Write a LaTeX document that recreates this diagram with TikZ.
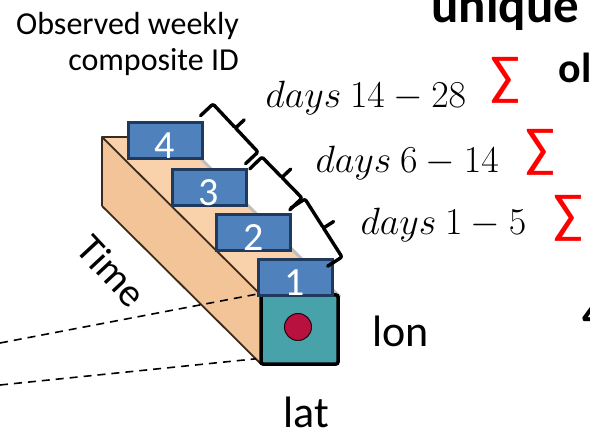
\RequirePackage{fix-cm}
\documentclass[tikz,border=0pt]{standalone}
\usepackage[no-math]{fontspec}
\setmainfont{Carlito}
\usetikzlibrary{calc}

\definecolor{topface}{HTML}{F9D1AA}
\definecolor{sideface}{HTML}{F3C497}
\definecolor{woodedge}{HTML}{3B2A1E}
\definecolor{boxblue}{HTML}{4F81BD}
\definecolor{boxnavy}{HTML}{1F3A5C}
\definecolor{pixteal}{HTML}{47A2AA}
\definecolor{pixred}{HTML}{B8103F}

% square brace along a time window: hooks point back, tick points out
\newcommand{\windowbrace}[2]{%
  \draw[window] ($(#1)!17pt!-90:(#2)$) -- (#1) -- ($(#1)!0.5!(#2)$)
    -- ($($(#1)!0.5!(#2)$)!12pt!90:(#2)$)
    ($(#1)!0.5!(#2)$) -- (#2) -- ($(#2)!17pt!90:(#1)$);}

\begin{document}
\begin{tikzpicture}[x=1pt, y=-1pt,
  numbox/.style = {draw=boxnavy, line width=3pt, fill=boxblue, inner sep=0pt,
    minimum width=74pt, text height=36pt, text depth=-2pt, text=white,
    font=\fontsize{40}{40}\selectfont},
  pixel/.style = {draw, line width=3.5pt, fill=pixteal, rounded corners=2pt,
    inner sep=0pt, minimum width=77pt, minimum height=69pt},
  obs/.style = {circle, draw=black!80!pixred, line width=1pt, fill=pixred,
    inner sep=0pt, minimum size=27pt},
  edge/.style = {draw=woodedge, line width=1.8pt, line join=round},
  window/.style = {line width=3.4pt, line join=round, line cap=round,
    rounded corners=2pt},
  daylbl/.style = {anchor=base west, font=\fontsize{38}{40}\selectfont},
  sum/.style = {text=red, font=\fontsize{55}{55}\selectfont},
  axis/.style = {font=\fontsize{44}{44}\selectfont},
  proj/.style = {dash pattern=on 8pt off 6pt, line width=1.6pt}]

  \useasboundingbox (0,0) rectangle (590,433);
  \clip (0,0) rectangle (590,433);

  % time stack
  \fill[sideface] (102,137) -- (261,295) -- (261,364) -- (102,206) -- cycle;
  \fill[topface] (102,137) -- (179,137) -- (338,295) -- (261,295) -- cycle;
  \draw[black!25, line width=3pt] (181,139) -- (340,297);
  \draw[edge] (102,206) -- (102,137) -- (179,137);
  \draw[edge] (102,137) -- (261,295);
  \draw[edge] (102,206) -- (261,364);

  \node[pixel] (face) at (299.5,329.5) {};
  \node[obs] (pix) at (298,327) {};

  % weekly composites
  \node[numbox] (w4) at (165,141) {4};
  \node[numbox] (w3) at (209,187.5) {3};
  \node[numbox] (w2) at (253.5,232.5) {2};
  \node[numbox] (w1) at (295,278) {1};

  % aggregation windows
  \coordinate (a1) at (213,104);
  \coordinate (a2) at (258,152);
  \coordinate (b1) at (262,157);
  \coordinate (b2) at (302,198);
  \coordinate (c1) at (305,199);
  \coordinate (c2) at (342,257);
  \windowbrace{a1}{a2}
  \windowbrace{b1}{b2}
  \windowbrace{c1}{c2}

  \node[daylbl] (d3) at (262,108) {$days\ 14-28$};
  \node[daylbl] (d2) at (312,173) {$days\ 6-14$};
  \node[daylbl] (d1) at (357,235) {$days\ 1-5$};
  \node[sum] (s3) at (505,80) {∑};
  \node[sum] (s2) at (540,152) {∑};
  \node[sum] (s1) at (568,218) {∑};

  \node[align=right, anchor=north east, inner sep=0pt,
    font=\fontsize{32}{36}\selectfont] (title) at (239,12)
    {Observed weekly\\composite ID};
  \node[font=\fontsize{40}{40}\selectfont, rotate=-47] (time) at (112,271) {Time};
  \node[axis, anchor=base west] (lon) at (369,347) {lon};
  \node[axis, anchor=base west] (lat) at (280,428) {lat};

  \node[anchor=base west, font=\fontsize{51}{51}\selectfont\bfseries] (uniq) at (428,23) {unique};
  \node[anchor=base west, font=\fontsize{42}{42}\selectfont\bfseries] (ob) at (555,83) {ol};
  \node[anchor=base west, font=\fontsize{44}{44}\selectfont\bfseries] (four) at (579,329) {4};

  % projection of the pixel
  \coordinate (v1) at (0,343);
  \coordinate (v2) at (0,385);
  \draw[proj] (v1) -- ([shift={(-3pt,-1pt)}]face.north west);
  \draw[proj] (v2) -- ([shift={(-3pt,7pt)}]face.south west);

\end{tikzpicture}
\end{document}
